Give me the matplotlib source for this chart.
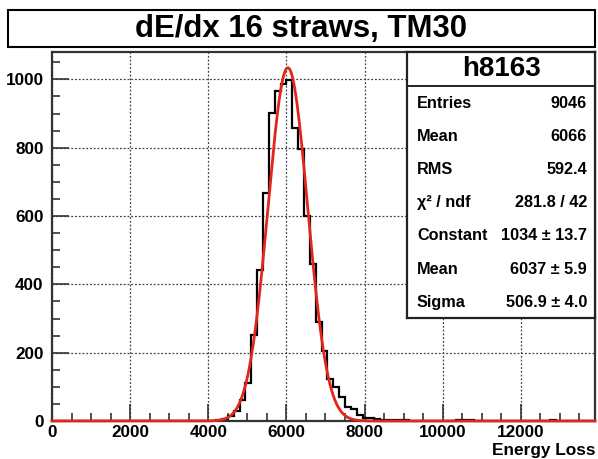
import numpy as np
import matplotlib
matplotlib.use("Agg")
import matplotlib.pyplot as plt
from matplotlib.patches import Rectangle
from matplotlib.ticker import MultipleLocator

plt.rcParams['font.family'] = ['Liberation Sans', 'DejaVu Sans']
plt.rcParams['font.weight'] = 'bold'

TITLE = "dE/dx 16 straws, TM30"
HIST_NAME = "h8163"
X_LABEL = "Energy Loss"

BIN_WIDTH = 150
FIRST_BIN = 4200  # lower edge of the first listed bin
COUNTS = [2, 6, 15, 30, 61, 110, 253, 441, 666, 901, 966, 987, 997,
          859, 795, 600, 460, 290, 205, 122, 100, 71, 40, 35, 18, 10, 8, 5,
          4, 3, 2, 2, 2, 1, 1, 0, 1, 1, 0, 1, 0, 2, 3, 2, 1, 0, 1, 0,
          1, 1, 0, 1, 0, 0, 1, 0, 1, 2, 1, 0, 0, 1, 0, 0, 0]

# fit parameters (gaus)
FIT_CONST = 1034
FIT_MEAN = 6037
FIT_SIGMA = 506.9

STAT_NAMES = ["Entries", "Mean", "RMS", "χ² / ndf", "Constant", "Mean", "Sigma"]
STAT_VALUES = ["9046", "6066", "592.4", "281.8 / 42", "1034 ± 13.7",
               "6037 ± 5.9", "506.9 ± 4.0"]

X_MAX = 13900
Y_MAX = 1080

W, H = 598, 459
fig = plt.figure(figsize=(W / 100, H / 100), dpi=100)

def fx(px):
    return px / W

def fy(py):
    return 1 - py / H

# main frame
ax = fig.add_axes([fx(52), fy(421), fx(595) - fx(52), fy(52) - fy(421)])

n_lead = int(FIRST_BIN / BIN_WIDTH)
n_total = int(np.ceil(X_MAX / BIN_WIDTH))
counts = np.zeros(n_total)
counts[n_lead:n_lead + len(COUNTS)] = COUNTS
edges = np.arange(n_total + 1) * BIN_WIDTH
ax.stairs(counts, edges, color='black', linewidth=1.6, zorder=3)

xf = np.linspace(0, X_MAX, 1500)
yf = FIT_CONST * np.exp(-0.5 * ((xf - FIT_MEAN) / FIT_SIGMA) ** 2)
ax.plot(xf, yf, color='#e3261c', linewidth=2.0, zorder=4, clip_on=False)

ax.set_xlim(0, X_MAX)
ax.set_ylim(0, Y_MAX)
ax.xaxis.set_major_locator(MultipleLocator(2000))
ax.xaxis.set_minor_locator(MultipleLocator(500))
ax.yaxis.set_major_locator(MultipleLocator(200))
ax.yaxis.set_minor_locator(MultipleLocator(50))
ax.tick_params(which='both', direction='in', color='#333333', width=1.2)
ax.tick_params(which='major', length=12, labelsize=12.3)
ax.tick_params(which='minor', length=6)
ax.tick_params(axis='x', pad=3)
ax.tick_params(axis='y', pad=6)
for lab in ax.get_xticklabels() + ax.get_yticklabels():
    lab.set_fontweight('bold')
ax.grid(True, which='major', linestyle=(0, (1.5, 1.5)), color='#444444',
        linewidth=0.9)
for s in ax.spines.values():
    s.set_linewidth(1.6)
    s.set_color('#333333')

fig.text(fx(595), fy(451), X_LABEL, ha='right', va='center',
         fontsize=12.4, fontweight='bold')

# title box
fig.patches.append(Rectangle((fx(8), fy(47)), fx(595) - fx(8), fy(10) - fy(47),
                             transform=fig.transFigure, facecolor='white',
                             edgecolor='black', linewidth=1.5))
fig.text(fx(301), fy(29), TITLE, ha='center', va='center',
         fontsize=22.4, fontweight='bold')

# stats box
sb = fig.add_axes([fx(407), fy(318), fx(595) - fx(407), fy(52) - fy(318)])
sb.set_facecolor('white')
sb.set_xticks([])
sb.set_yticks([])
sb.set_xlim(0, 1)
sb.set_ylim(318, 52)
for s in sb.spines.values():
    s.set_linewidth(1.6)
    s.set_color('#222222')
sb.axhline(86, color='#222222', linewidth=1.4)
sb.text(0.5, 69, HIST_NAME, ha='center', va='center', fontsize=20,
        fontweight='bold')
for i, (name, val) in enumerate(zip(STAT_NAMES, STAT_VALUES)):
    y = 103 + i * 33.2
    sb.text(0.053, y, name, ha='left', va='center', fontsize=11.7,
            fontweight='bold')
    sb.text(0.957, y, val, ha='right', va='center', fontsize=11.7,
            fontweight='bold')

fig.savefig("out.png", dpi=100)
